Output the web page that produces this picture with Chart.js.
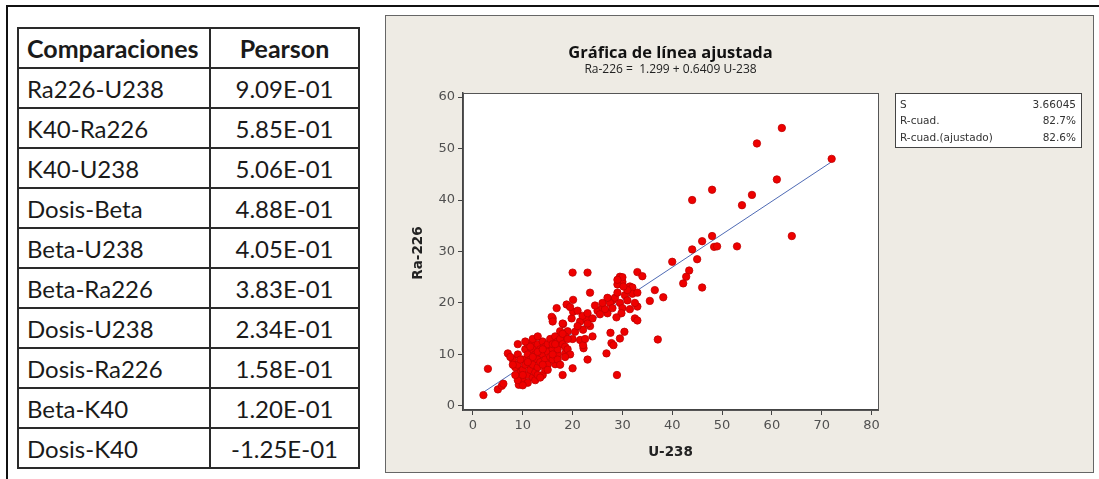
<!DOCTYPE html>
<html lang="es">
<head>
<meta charset="utf-8">
<title>Gráfica de línea ajustada</title>
<script src="https://cdn.jsdelivr.net/npm/chart.js@4.4.1/dist/chart.umd.min.js"></script>
<style>
    body { margin: 0; width: 1099px; height: 479px; background: #fff; position: relative; overflow: hidden; }
    #marco { position: absolute; left: 6px; top: 5px; right: 0; bottom: 0; border-top: 2px solid #111; border-left: 2px solid #111; }
    #tabla { position: absolute; left: 17px; top: 27px; width: 343px; height: 438px; border-collapse: collapse;
             font-family: Lato, "Open Sans", sans-serif; font-size: 24px; color: #1a1a1a; }
    #tabla td, #tabla th { border: 2px solid #2a2a2a; padding: 0 8px; height: 38px; }
    #tabla th { font-weight: bold; font-size: 25px; }
    #tabla th:first-child, #tabla td:first-child { text-align: left; width: 174px; }
    #tabla th:last-child, #tabla td:last-child { text-align: center; }
    #panel { position: absolute; left: 385px; top: 15px; width: 709px; height: 458px; }
</style>
</head>
<body>
<div id="marco"></div>
<table id="tabla"><thead></thead><tbody></tbody></table>
<div id="panel"><canvas id="grafica"></canvas></div>
<script>
// tabla de correlaciones
const comparaciones = ['Ra226-U238', 'K40-Ra226', 'K40-U238', 'Dosis-Beta', 'Beta-U238',
    'Beta-Ra226', 'Dosis-U238', 'Dosis-Ra226', 'Beta-K40', 'Dosis-K40'];
const pearson = ['9.09E-01', '5.85E-01', '5.06E-01', '4.88E-01', '4.05E-01',
    '3.83E-01', '2.34E-01', '1.58E-01', '1.20E-01', '-1.25E-01'];

// datos de la gráfica (U-238 vs Ra-226)
const uX = [
    62, 57, 72, 61, 48, 44, 56, 54, 64, 48, 46, 44, 48.4, 49, 53, 40, 45, 43.4, 42.8, 42.2, 46,
    33, 34, 29.5, 30, 29, 31.5, 32, 36.5, 38.2, 35.5, 33, 32.5, 33, 37.1, 20, 23, 23.5,
    2.1, 3, 5, 5.8, 6.1, 7, 9.2, 16.8, 18.8, 20.1, 16, 18.1, 16.5, 18, 20, 18.5, 23, 22.2,
    26.8, 28.9, 27.8, 27.6, 29.5, 30.4, 28.2,
    25, 26, 27, 28, 28.5, 29, 29.5, 30, 30.5, 31, 31.5, 32, 30, 29, 27.5, 26.5, 25.5, 24.5,
    28, 29.8, 31, 32.5, 30.2, 28.8, 33, 27, 26,
    19.8, 21.5, 22.8, 22.1, 20.5, 15.8, 16, 18, 20.1, 21, 22, 23, 24, 19, 20, 21.5, 22.1,
    23.5, 24, 21, 19.5, 22.5, 18.5, 17.5, 23,
    8, 8.5, 9, 9, 9.5, 10, 10, 10, 10.5, 10.5, 11, 11, 11, 11.5, 11.5, 12, 12, 12, 12,
    12.5, 12.5, 13, 13, 13, 13.5, 13.5, 14, 14, 14, 14.5, 14.5, 15, 15, 15, 15.5, 15.5,
    16, 16, 16, 16.5, 17, 17, 17, 17.5, 18, 18, 18.5, 19, 11, 10, 9, 12.5, 13, 14.5, 13.5,
    10, 8.5, 9.5, 12, 14, 16, 17, 15, 11.5, 13, 14, 16.5, 19, 19.5, 8, 7.5, 9, 10.5, 12,
    13, 11, 17.5, 18.5
];
const raY = [
    54, 51, 48, 44, 42, 40, 41, 39, 33, 33, 32, 30.4, 30.9, 31, 31, 28, 28.5, 26.3, 25.1, 23.8, 23,
    26, 25.2, 25.1, 24.1, 23.6, 23.2, 23, 22.5, 21.1, 20.4, 19.3, 17, 16.6, 12.9, 25.9, 25.9, 22,
    2.1, 7.2, 3.2, 3.9, 4.3, 10.2, 4.1, 19, 19.7, 20.6, 17, 15.9, 8.1, 6, 7.3, 10.2, 9, 11.2,
    10.2, 6, 12.2, 14.2, 13.1, 14.4, 11.8,
    18.5, 19, 18, 20.5, 21, 22, 20, 19, 21.5, 20.5, 18.8, 21.8, 25, 24.5, 20, 18.8, 17.8, 19.5,
    19, 18, 22.5, 20, 23.2, 17.2, 22, 21, 20,
    17, 16.4, 16.7, 14.8, 14.4, 17.3, 16.4, 16, 18.3, 15.5, 17.5, 18, 17, 14.5, 13, 12.8, 11.8,
    15.5, 13.5, 18.5, 19.2, 13, 13.5, 14.5, 16,
    9, 7.5, 8, 10, 6.5, 5, 7, 9, 11, 8, 6, 10, 12, 9, 7, 5.5, 8, 11, 12.5,
    10, 6.5, 9, 12, 7.5, 11, 8.5, 10, 6, 12.5, 9, 11.5, 8, 10.5, 12, 9.5, 13,
    11, 12, 9, 13.5, 10, 12.5, 11, 13, 12, 14, 11.5, 13, 4.5, 4, 5, 5, 6, 7, 5.5,
    6, 6, 9, 9.5, 8, 10, 9, 7, 11.5, 10.5, 11, 12, 11, 10, 8, 9.5, 12, 12.5, 13,
    13.5, 8.5, 8, 9.5
];

// recta ajustada: Ra-226 = 1.299 + 0.6409 U-238
const ajusteX = [2.1, 72];
const ajusteY = [2.65, 47.44];

const ticksX = [0, 10, 20, 30, 40, 50, 60, 70, 80];
const ticksY = [0, 10, 20, 30, 40, 50, 60];

const estadisticas = [['S', '3.66045'], ['R-cuad.', '82.7%'], ['R-cuad.(ajustado)', '82.6%']];

const titulo = 'Gráfica de línea ajustada';
const subtitulo = 'Ra-226 =  1.299 + 0.6409 U-238';
const tituloX = 'U-238';
const tituloY = 'Ra-226';

// construir la tabla
function construirTabla() {
    const tabla = document.getElementById('tabla');
    tabla.querySelector('thead').innerHTML = '<tr><th>Comparaciones</th><th>Pearson</th></tr>';
    let cuerpo = '';
    comparaciones.forEach((c, i) => {
        cuerpo += `<tr><td>${c}</td><td>${pearson[i]}</td></tr>`;
    });
    tabla.querySelector('tbody').innerHTML = cuerpo;
}

// adornos estilo Minitab
const decoracion = {
    id: 'decoracion',
    beforeDraw(chart) {
        const ctx = chart.ctx;
        const a = chart.chartArea;
        ctx.save();
        ctx.fillStyle = '#eeebe4';
        ctx.fillRect(0, 0, chart.width, chart.height);
        ctx.fillStyle = '#ffffff';
        ctx.fillRect(a.left, a.top, a.right - a.left, a.bottom - a.top);
        ctx.restore();
    },
    afterDraw(chart) {
        const ctx = chart.ctx;
        const a = chart.chartArea;
        ctx.save();
        // marco del área
        ctx.strokeStyle = '#555';
        ctx.lineWidth = 1;
        ctx.strokeRect(a.left + 0.5, a.top + 0.5, a.right - a.left, a.bottom - a.top);
        // marco del panel
        ctx.strokeStyle = '#666';
        ctx.strokeRect(0.5, 0.5, chart.width - 1, chart.height - 1);

        // títulos
        ctx.fillStyle = '#111';
        ctx.textAlign = 'center';
        ctx.textBaseline = 'middle';
        ctx.font = 'bold 16.5px "Open Sans", sans-serif';
        ctx.fillText(titulo, (a.left + a.right) / 2, 38);
        ctx.font = '12px "Open Sans", sans-serif';
        ctx.fillStyle = '#222';
        ctx.fillText(subtitulo, (a.left + a.right) / 2, 55);

        // títulos de ejes
        ctx.font = 'bold 13.5px "DejaVu Sans", sans-serif';
        ctx.fillStyle = '#222';
        ctx.fillText(tituloX, (a.left + a.right) / 2, 437);
        ctx.translate(33, 238);
        ctx.rotate(-Math.PI / 2);
        ctx.fillText(tituloY, 0, 0);
        ctx.setTransform(chart.currentDevicePixelRatio, 0, 0, chart.currentDevicePixelRatio, 0, 0);

        // cuadro de estadísticas
        const bx = 510, by = 78, bw = 186, bh = 54;
        ctx.fillStyle = '#ffffff';
        ctx.fillRect(bx, by, bw, bh);
        ctx.strokeStyle = '#444';
        ctx.strokeRect(bx + 0.5, by + 0.5, bw, bh);
        ctx.font = '10.5px "DejaVu Sans", sans-serif';
        ctx.fillStyle = '#333';
        estadisticas.forEach((e, i) => {
            const y = by + 12 + i * 16.5;
            ctx.textAlign = 'left';
            ctx.fillText(e[0], bx + 5, y);
            ctx.textAlign = 'right';
            ctx.fillText(e[1], bx + bw - 5, y);
        });
        ctx.restore();
    }
};

function crearGrafica() {
    const puntos = uX.map((x, i) => ({ x: x, y: raY[i] }));
    const recta = ajusteX.map((x, i) => ({ x: x, y: ajusteY[i] }));
    const tickFont = { family: '"DejaVu Sans", sans-serif', size: 13 };

    new Chart(document.getElementById('grafica'), {
        type: 'scatter',
        data: {
            datasets: [
                {
                    type: 'line',
                    data: recta,
                    borderColor: '#4f6bb5',
                    borderWidth: 1,
                    pointRadius: 0,
                    fill: false,
                    order: 2
                },
                {
                    data: puntos,
                    backgroundColor: '#ee0000',
                    borderColor: '#c00000',
                    borderWidth: 0.8,
                    pointRadius: 3.7,
                    order: 1
                }
            ]
        },
        options: {
            responsive: true,
            maintainAspectRatio: false,
            animation: false,
            layout: { padding: { left: 10, right: 216, top: 78, bottom: 33 } },
            plugins: {
                legend: { display: false },
                tooltip: { enabled: false }
            },
            scales: {
                x: {
                    type: 'linear',
                    min: -2,
                    max: 81.3,
                    afterBuildTicks: (s) => { s.ticks = ticksX.map(v => ({ value: v })); },
                    afterFit: (s) => { s.height = 30; },
                    grid: { drawOnChartArea: false, drawTicks: true, tickLength: 5, color: '#444' },
                    border: { display: true, color: '#444', width: 1.5 },
                    ticks: { color: '#505050', font: tickFont, padding: 3, maxRotation: 0 }
                },
                y: {
                    type: 'linear',
                    min: -0.8,
                    max: 60.8,
                    afterBuildTicks: (s) => { s.ticks = ticksY.map(v => ({ value: v })); },
                    afterFit: (s) => { s.width = 68; },
                    grid: { drawOnChartArea: false, drawTicks: true, tickLength: 5, color: '#444' },
                    border: { display: true, color: '#444', width: 1.5 },
                    ticks: { color: '#505050', font: tickFont, padding: 3 }
                }
            }
        },
        plugins: [decoracion]
    });
}

construirTabla();
crearGrafica();
</script>
</body>
</html>
